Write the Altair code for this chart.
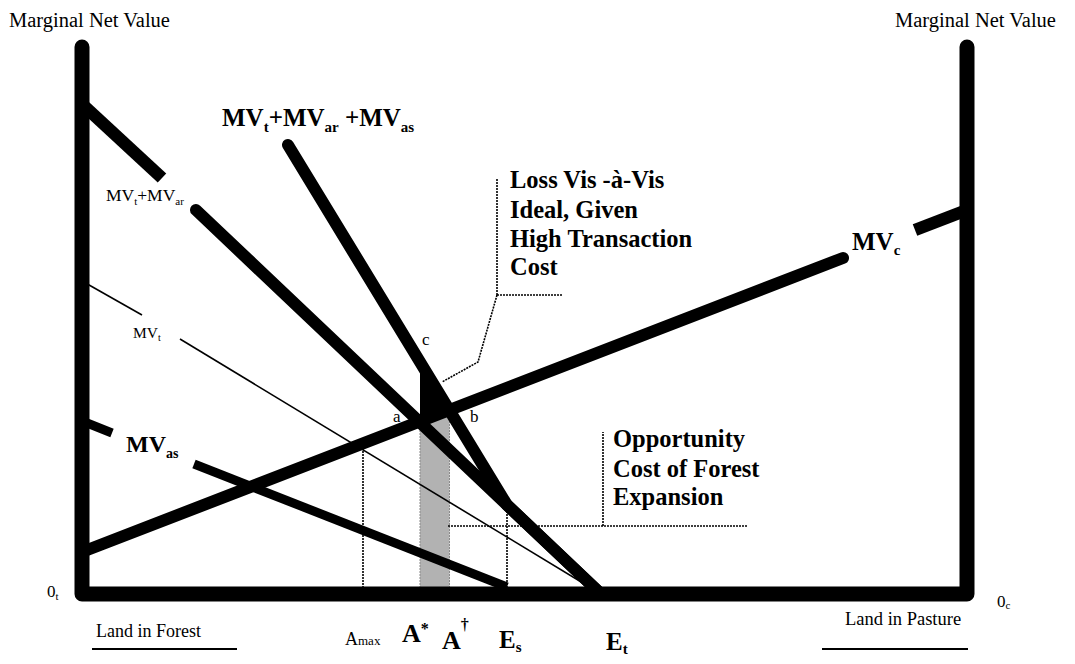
import altair as alt
import pandas as pd

# ---------------- diagram values ----------------
# x = land position measured from 0_t (left axis) toward 0_c (right axis)
# y = marginal net value measured above the land axis
frame_x = [0, 0, 885, 885]
frame_y = [547, 0, 0, 547]

mvc_x, mvc_y = [0, 761], [42, 336]            # MVc, up to its label
mvc2_x, mvc2_y = [833, 885], [364, 384]       # MVc, after its label
mvtar_x, mvtar_y = [0, 80], [490, 416]        # MVt+MVar, before its label
mvtar2_x, mvtar2_y = [114, 519], [384, 0]     # MVt+MVar, after its label
tot_x, tot_y = [206, 425, 519], [449, 89, 0]  # MVt+MVar+MVas
mvt_x, mvt_y = [0, 60], [313, 279]            # MVt (thin)
mvt2_x, mvt2_y = [98, 519], [255, 0]
mvas_x, mvas_y = [0, 30], [173, 161]          # MVas
mvas2_x, mvas2_y = [112, 425], [130, 7]

# key points
a_x, a_y = 338, 172      # MVc meets MVt+MVar
b_x, b_y = 367.5, 184    # MVc meets MVt+MVar+MVas
c_x, c_y = 338, 232      # A* meets MVt+MVar+MVas
amax_x, amax_top = 281, 150
es_x, es_top = 425, 89

# annotation leaders
opp_h_x, opp_h_y = [366, 666], [68, 68]
opp_v_x, opp_v_y = [521, 521], [68, 162]
loss_v_x, loss_v_y = [415, 415], [415, 299]
loss_h_x, loss_h_y = [415, 481], [299, 299]
loss_d_x, loss_d_y = [415, 396, 360], [299, 232, 212]
under1_x, under1_y = [10, 155], [-55, -55]
under2_x, under2_y = [740, 886], [-55, -55]

# ---------------- text ----------------
W_R = {'M': .889, 'V': .722, 't': .278, '+': .564, 'a': .444, 'r': .333, 's': .389,
       'c': .444, 'A': .722, 'm': .778, 'x': .5, '0': .5, ' ': .25}
W_B = {'M': .944, 'V': .722, 't': .333, '+': .570, 'a': .5, 'r': .444, 's': .389,
       'c': .444, 'A': .722, 'E': .667, '*': .5, '\u2020': .5, ' ': .25}


def text_width(s, size, bold):
    tab = W_B if bold else W_R
    return sum(tab.get(ch, 0.5) for ch in s) * size


labels = [
    dict(x=-73, y=567, bold=False, pieces=[("Marginal Net Value", 20.5, 0)]),
    dict(x=813, y=567, bold=False, pieces=[("Marginal Net Value", 20.5, 0)]),
    dict(x=140, y=468, bold=True, pieces=[("MV", 25, 0), ("t", 15, 6), ("+MV", 25, 0),
                                          ("ar", 15, 6), (" +MV", 25, 0), ("as", 15, 6)]),
    dict(x=24, y=393, bold=False, pieces=[("MV", 17.5, 0), ("t", 11, 4), ("+MV", 17.5, 0), ("ar", 11, 4)]),
    dict(x=51, y=256, bold=False, pieces=[("MV", 15.5, 0), ("t", 10, 3)]),
    dict(x=44, y=142, bold=True, pieces=[("MV", 24, 0), ("as", 14, 6)]),
    dict(x=770, y=344, bold=True, pieces=[("MV", 25, 0), ("c", 15, 5)]),
    dict(x=311, y=172, bold=False, pieces=[("a", 17, 0)]),
    dict(x=388, y=172, bold=False, pieces=[("b", 17, 0)]),
    dict(x=340, y=249, bold=False, pieces=[("c", 17, 0)]),
    dict(x=428, y=406, bold=True, pieces=[("Loss Vis -\u00e0-Vis", 24.5, 0)]),
    dict(x=428, y=376, bold=True, pieces=[("Ideal, Given", 24.5, 0)]),
    dict(x=428, y=347, bold=True, pieces=[("High Transaction", 24.5, 0)]),
    dict(x=428, y=319, bold=True, pieces=[("Cost", 24.5, 0)]),
    dict(x=531, y=147, bold=True, pieces=[("Opportunity", 24.5, 0)]),
    dict(x=531, y=117, bold=True, pieces=[("Cost of Forest", 24.5, 0)]),
    dict(x=531, y=89, bold=True, pieces=[("Expansion", 24.5, 0)]),
    dict(x=-35, y=-3, bold=False, pieces=[("0", 17, 0), ("t", 11, 3)]),
    dict(x=915, y=-13, bold=False, pieces=[("0", 17, 0), ("c", 11, 2)]),
    dict(x=14, y=-43, bold=False, pieces=[("Land in Forest", 18, 0)]),
    dict(x=763, y=-31, bold=False, pieces=[("Land in Pasture", 18.5, 0)]),
    dict(x=263, y=-51, bold=False, pieces=[("A", 18, 0), ("max", 13, 0)]),
    dict(x=320, y=-48, bold=True, pieces=[("A", 26, 0), ("*", 16, -8)]),
    dict(x=360, y=-55, bold=True, pieces=[("A", 26, 0), ("\u2020", 16, -19)]),
    dict(x=417, y=-54, bold=True, pieces=[("E", 25, 0), ("s", 15, 4)]),
    dict(x=524, y=-56, bold=True, pieces=[("E", 25, 0), ("t", 15, 4)]),
]

rows = []
for lab in labels:
    cx = lab["x"]
    for text, size, shift in lab["pieces"]:
        lead = len(text) - len(text.lstrip(" "))
        cx += text_width(" " * lead, size, lab["bold"])
        text = text.lstrip(" ")
        rows.append(dict(x=cx, y=lab["y"] - shift, text=text, size=size, bold=lab["bold"]))
        cx += text_width(text, size, lab["bold"])
text_df = pd.DataFrame(rows)

# ---------------- chart ----------------
XS = alt.Scale(domain=[-74, 985], nice=False, zero=False)
YS = alt.Scale(domain=[-62, 586], nice=False, zero=False)
X = alt.X("x:Q", scale=XS, axis=None)
Y = alt.Y("y:Q", scale=YS, axis=None)


def poly(*pairs):
    frames = []
    for i, (xs_, ys_) in enumerate(pairs):
        frames.append(pd.DataFrame({"seg": i, "x": xs_, "y": ys_, "ord": list(range(len(xs_)))}))
    return pd.concat(frames, ignore_index=True)


def line_layer(df, width, cap, color="black", dash=None):
    kw = dict(strokeWidth=width, strokeCap=cap, strokeJoin="round", color=color)
    if dash is not None:
        kw["strokeDash"] = dash
    return alt.Chart(df).mark_line(**kw).encode(x=X, y=Y, detail="seg:N", order="ord:Q")


gray_df = pd.DataFrame({"x": [a_x, b_x], "y": [0, 0], "y2": [a_y, b_y]})
gray = alt.Chart(gray_df).mark_area(color="#b2b2b2", opacity=1).encode(
    x=X, y=Y, y2="y2:Q")
gray_edges = line_layer(poly(([a_x, a_x], [0, a_y]), ([b_x, b_x], [0, b_y])),
                        1, "butt", color="#8a8a8a", dash=[2, 1])

dashed = line_layer(poly(([amax_x, amax_x], [0, amax_top]), ([es_x, es_x], [0, es_top]),
                         (opp_h_x, opp_h_y), (opp_v_x, opp_v_y),
                         (loss_v_x, loss_v_y), (loss_h_x, loss_h_y), (loss_d_x, loss_d_y)),
                    1.6, "butt", dash=[2, 1])

thin = line_layer(poly((mvt_x, mvt_y), (mvt2_x, mvt2_y)), 1.6, "butt")
mvas = line_layer(poly((mvas_x, mvas_y), (mvas2_x, mvas2_y)), 9, "butt")
butt_thick = line_layer(poly((mvc2_x, mvc2_y), (mvtar_x, mvtar_y)), 12.5, "butt")
round_thick = line_layer(poly((mvc_x, mvc_y), (mvtar2_x, mvtar2_y), (tot_x, tot_y)), 12, "round")

tri_df = pd.DataFrame({"x": [a_x, b_x], "y": [a_y, b_y], "y2": [c_y, b_y]})
loss_tri = alt.Chart(tri_df).mark_area(color="black", opacity=1).encode(x=X, y=Y, y2="y2:Q")

frame = line_layer(poly((frame_x, frame_y)), 15, "round")
unders = line_layer(poly((under1_x, under1_y), (under2_x, under2_y)), 2, "butt")

txt_reg = alt.Chart(text_df[~text_df.bold]).mark_text(
    align="left", baseline="alphabetic", font="Liberation Serif", color="black"
).encode(x=X, y=Y, text="text:N", size=alt.Size("size:Q", scale=None))
txt_bold = alt.Chart(text_df[text_df.bold]).mark_text(
    align="left", baseline="alphabetic", font="Liberation Serif", fontWeight="bold", color="black"
).encode(x=X, y=Y, text="text:N", size=alt.Size("size:Q", scale=None))

chart = alt.layer(
    gray, gray_edges, dashed, thin, mvas, butt_thick, round_thick, loss_tri, frame, unders,
    txt_reg, txt_bold
).properties(
    width=1059, height=648, padding=0, autosize=alt.AutoSizeParams(type="none"),
    background="white"
).configure_view(stroke=None)

chart.save("out.html", embed_options={"renderer": "svg", "actions": False})
